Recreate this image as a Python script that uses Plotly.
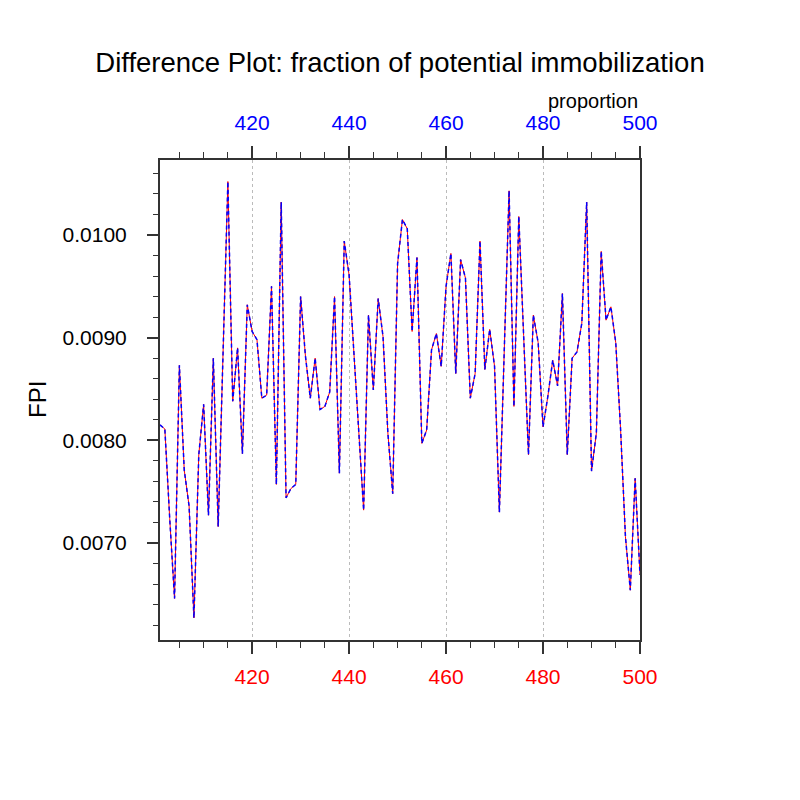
import plotly.graph_objects as go

# ---- data ----
x_values = list(range(401, 501))
fpi_values = [
    0.00815, 0.00811, 0.00724, 0.00646, 0.00873, 0.00771, 0.00736, 0.00627, 0.00786, 0.00835,
    0.00727, 0.00880, 0.00716, 0.00884, 0.01052, 0.00838, 0.00890, 0.00787, 0.00932, 0.00906,
    0.00898, 0.00841, 0.00844, 0.00950, 0.00757, 0.01032, 0.00744, 0.00753, 0.00757, 0.00940,
    0.00882, 0.00841, 0.00880, 0.00830, 0.00833, 0.00847, 0.00940, 0.00768, 0.00994, 0.00961,
    0.00888, 0.00804, 0.00732, 0.00922, 0.00849, 0.00938, 0.00901, 0.00807, 0.00748, 0.00972,
    0.01015, 0.01006, 0.00906, 0.00978, 0.00797, 0.00810, 0.00888, 0.00904, 0.00872, 0.00950,
    0.00982, 0.00865, 0.00976, 0.00958, 0.00841, 0.00865, 0.00994, 0.00869, 0.00908, 0.00872,
    0.00730, 0.00887, 0.01043, 0.00833, 0.01018, 0.00902, 0.00786, 0.00922, 0.00895, 0.00813,
    0.00843, 0.00878, 0.00853, 0.00943, 0.00786, 0.00880, 0.00886, 0.00914, 0.01032, 0.00770,
    0.00807, 0.00984, 0.00917, 0.00930, 0.00895, 0.00810, 0.00706, 0.00654, 0.00763, 0.00669,
]
x_tick_values = [420, 440, 460, 480, 500]
x_tick_labels = ["420", "440", "460", "480", "500"]
y_tick_values = [0.0070, 0.0080, 0.0090, 0.0100]
y_tick_labels = ["0.0070", "0.0080", "0.0090", "0.0100"]

FONT = "Liberation Sans, Arial, Helvetica, sans-serif"
AXC = "#333333"

fig = go.Figure()
fig.add_trace(go.Scatter(
    x=x_values, y=fpi_values, mode="lines",
    line=dict(color="red", width=1), xaxis="x", yaxis="y", showlegend=False,
))
fig.add_trace(go.Scatter(
    x=x_values, y=fpi_values, mode="lines",
    line=dict(color="blue", width=1.5, dash="4px,3px"), xaxis="x2", yaxis="y", showlegend=False,
))

xr = [401, 500]
# page body adds an 8px offset, margins compensate for it
L, T = 152, 152
fig.update_layout(
    width=800, height=800,
    margin=dict(l=L, r=800 - L - 480, t=T, b=800 - T - 480),
    paper_bgcolor="white", plot_bgcolor="white",
    font=dict(family=FONT, size=21, color="black"),
    title=dict(
        text="Difference Plot: fraction of potential immobilization",
        x=(400 - 8) / 800, xanchor="center", y=1 - 54 / 800, yanchor="middle",
        font=dict(family=FONT, size=27.5, color="black"),
    ),
    xaxis=dict(
        range=xr, side="bottom",
        tickmode="array", tickvals=x_tick_values, ticktext=x_tick_labels,
        ticks="outside", ticklen=12, tickwidth=1.5, tickcolor=AXC,
        tickfont=dict(family=FONT, size=21, color="red"),
        showline=True, linewidth=2, linecolor=AXC, mirror=True,
        showgrid=True, gridcolor="#bbbbbb", gridwidth=1, griddash="dot",
        minor=dict(dtick=5, tick0=400, ticks="outside", ticklen=6, tickwidth=1, tickcolor=AXC, showgrid=False),
        zeroline=False, ticklabelstandoff=5,
    ),
    xaxis2=dict(
        range=xr, side="top", overlaying="x", anchor="y",
        tickmode="array", tickvals=x_tick_values, ticktext=x_tick_labels,
        ticks="outside", ticklen=12, tickwidth=1.5, tickcolor=AXC,
        tickfont=dict(family=FONT, size=21, color="blue"),
        showline=True, linewidth=2, linecolor=AXC,
        showgrid=False,
        minor=dict(dtick=5, tick0=400, ticks="outside", ticklen=6, tickwidth=1, tickcolor=AXC, showgrid=False),
        zeroline=False, ticklabelstandoff=8,
    ),
    yaxis=dict(
        range=[0.006055, 0.01073],
        tickmode="array", tickvals=y_tick_values, ticktext=y_tick_labels,
        ticks="outside", ticklen=11, tickwidth=1.5, tickcolor=AXC,
        tickfont=dict(family=FONT, size=21, color="black"),
        showline=True, linewidth=2, linecolor=AXC, mirror=True,
        showgrid=False, zeroline=False,
        minor=dict(dtick=0.0002, tick0=0.006, ticks="outside", ticklen=5, tickwidth=1, tickcolor=AXC, showgrid=False),
        ticklabelstandoff=16,
    ),
    annotations=[
        dict(text="FPI", xref="paper", yref="paper", x=(37 - 160) / 480, y=(640 - 400) / 480,
             xanchor="center", yanchor="middle", showarrow=False, textangle=-90,
             font=dict(family=FONT, size=24, color="black")),
        dict(text="proportion", xref="paper", yref="paper", x=1.0, y=(640 - 101) / 480,
             xanchor="right", yanchor="middle", showarrow=False,
             font=dict(family=FONT, size=20, color="black")),
    ],
)

fig.write_html("out.html")
